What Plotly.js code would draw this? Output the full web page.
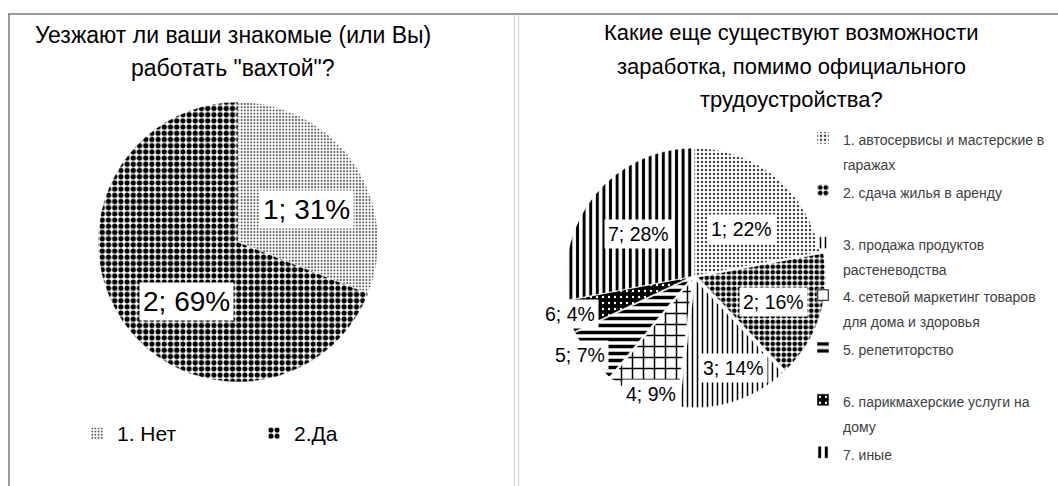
<!DOCTYPE html>
<html><head><meta charset="utf-8">
<script src="https://cdn.plot.ly/plotly-3.0.1.min.js"></script>
<style>html,body{margin:0;padding:0;background:#fff}#chart{width:1058px;height:486px}</style>
</head><body><div id="chart"></div>
<script>
// ---- data ----
const leftTitle = 'Уезжают ли ваши знакомые (или Вы)<br>работать "вахтой"?';
const leftLabels = ['1. Нет', '2.Да'];
const leftNums = ['1', '2'];
const leftValues = [31, 69];

const rightTitle = 'Какие еще существуют возможности<br>заработка, помимо официального<br>трудоустройства?';
const rightLabels = [
  '1. автосервисы и мастерские в<br>гаражах',
  '2. сдача жилья в аренду',
  '3. продажа продуктов<br>растеневодства',
  '4. сетевой маркетинг товаров<br>для дома и здоровья',
  '5. репетиторство',
  '6. парикмахерские услуги на<br>дому',
  '7. иные'
];
const rightNums = ['1', '2', '3', '4', '5', '6', '7'];
const rightValues = [22, 16, 14, 9, 7, 4, 28];

// ---- style ----
const FONT = '"Liberation Sans", Arial, sans-serif';
const W = 1058, H = 486;
const leftGeo = {cx: 238, cy: 242, r: 140};
const rightGeo = {cx: 694, cy: 276, r: 128};
const rightPull = [0, 0.03, 0.03, 0.03, 0.03, 0.03, 0];
// label placement: radial fraction and angle nudge (degrees) relative to slice mid-angle
const leftLabelR = [0.54, 0.56];
const leftLabelDA = [9, -15];
const rightLabelR = [0.52, 0.65, 0.78, 0.98, 1.08, 1.01, 0.54];
const rightLabelDA = [6, 0, -5.5, -3.4, 3, 1, -2.6];

function domainFor(g) {
  return {x: [(g.cx - g.r) / W, (g.cx + g.r) / W], y: [1 - (g.cy + g.r) / H, 1 - (g.cy - g.r) / H]};
}
function labelAnnots(values, nums, g, fr, da, size) {
  const total = values.reduce((a, b) => a + b, 0);
  let cum = 0;
  return values.map((v, i) => {
    const mid = (cum + v / 2) / total * 2 * Math.PI + da[i] * Math.PI / 180;
    cum += v;
    const rr = g.r * fr[i];
    const px = g.cx + rr * Math.sin(mid), py = g.cy - rr * Math.cos(mid);
    return {
      xref: 'paper', yref: 'paper', x: px / W, y: 1 - py / H, xanchor: 'center', yanchor: 'middle',
      text: nums[i] + '; ' + Math.round(v / total * 100) + '%',
      showarrow: false, bgcolor: '#ffffff', borderpad: 3,
      font: {family: FONT, size: size, color: '#000'}
    };
  });
}
function titleAnnots(text, cx, y0, pitch, size) {
  return text.split('<br>').map((line, i) => ({
    xref: 'paper', yref: 'paper', x: cx / W, y: 1 - (y0 + i * pitch) / H,
    xanchor: 'center', yanchor: 'middle', text: line, showarrow: false,
    font: {family: FONT, size: size, color: '#000'}
  }));
}
function pad2(lbl, i, arr) {
  const t = (lbl.indexOf('<br>') >= 0 || i === arr.length - 1) ? lbl : lbl + '<br>\u00a0';
  return '<span style="font-size:14px">' + t + '</span>';
}

const maxPull = Math.max(...rightPull);

const traces = [
  {
    type: 'pie', labels: leftLabels, values: leftValues, sort: false,
    direction: 'clockwise', rotation: 0, textinfo: 'none', hoverinfo: 'label+percent',
    domain: domainFor(leftGeo), legend: 'legend',
    marker: {
      colors: ['#ffffff', '#ffffff'],
      line: {color: '#ffffff', width: 0.5},
      pattern: {shape: ['.', '.'], fgcolor: ['#555555', '#000000'], bgcolor: ['#ffffff', '#ffffff'],
                size: [3.2, 6.2], solidity: [0.3, 0.55], fillmode: 'replace'}
    }
  },
  {
    type: 'pie', labels: rightLabels.map(pad2), values: rightValues, sort: false,
    direction: 'clockwise', rotation: 0, textinfo: 'none', hoverinfo: 'label+percent',
    domain: domainFor({cx: rightGeo.cx, cy: rightGeo.cy, r: rightGeo.r * (1 + maxPull)}),
    pull: rightPull, legend: 'legend2',
    marker: {
      colors: ['#ffffff', '#ffffff', '#ffffff', '#ffffff', '#ffffff', '#000000', '#ffffff'],
      line: {color: '#ffffff', width: 0.5},
      pattern: {
        shape: ['.', '.', '|', '+', '-', '.', '|'],
        fgcolor: ['#444444', '#000000', '#000000', '#000000', '#000000', '#ffffff', '#000000'],
        bgcolor: ['#ffffff', '#ffffff', '#ffffff', '#ffffff', '#ffffff', '#000000', '#ffffff'],
        size: [4, 5.5, 5, 11, 7, 6, 6.6],
        solidity: [0.3, 0.55, 0.3, 0.25, 0.5, 0.12, 0.45],
        fillmode: 'replace'
      }
    }
  }
];

const annotations = []
  .concat(titleAnnots(leftTitle, 233, 35, 33, 23))
  .concat(titleAnnots(rightTitle, 791, 33, 33.5, 22))
  .concat(labelAnnots(leftValues, leftNums, leftGeo, leftLabelR, leftLabelDA, 28))
  .concat(labelAnnots(rightValues, rightNums, rightGeo, rightLabelR, rightLabelDA, 19.5));

const shapes = [
  {type: 'line', xref: 'paper', yref: 'paper', x0: 8 / W, x1: 1, y0: 1 - 14 / H, y1: 1 - 14 / H, line: {color: '#7a7a7a', width: 1.5}},
  {type: 'line', xref: 'paper', yref: 'paper', x0: 9 / W, x1: 9 / W, y0: 0, y1: 1 - 14 / H, line: {color: '#7a7a7a', width: 1.5}},
  {type: 'line', xref: 'paper', yref: 'paper', x0: 514.5 / W, x1: 514.5 / W, y0: 0, y1: 1 - 15 / H, line: {color: '#d9d9d9', width: 1.5}},
  {type: 'line', xref: 'paper', yref: 'paper', x0: 518.5 / W, x1: 518.5 / W, y0: 0, y1: 1 - 15 / H, line: {color: '#d9d9d9', width: 1.5}}
];

const layout = {
  width: W, height: H, margin: {l: 0, r: 0, t: 0, b: 0, autoexpand: false},
  paper_bgcolor: '#ffffff', plot_bgcolor: '#ffffff',
  showlegend: true,
  font: {family: FONT, color: '#000'},
  legend: {orientation: 'h', x: 77 / W, y: 1 - 413 / H, xanchor: 'left', yanchor: 'top',
           entrywidth: 132, entrywidthmode: 'pixels', itemwidth: 30,
           font: {family: FONT, size: 21, color: '#000'}, bgcolor: 'rgba(0,0,0,0)'},
  legend2: {orientation: 'v', x: 803 / W, y: 1 - 119 / H, xanchor: 'left', yanchor: 'top', valign: 'top',
            itemwidth: 30, font: {family: FONT, size: 19, color: '#404040'}, bgcolor: 'rgba(0,0,0,0)'},
  annotations: annotations,
  shapes: shapes
};

Plotly.newPlot('chart', traces, layout, {displayModeBar: false, staticPlot: true});
</script>
</body></html>
